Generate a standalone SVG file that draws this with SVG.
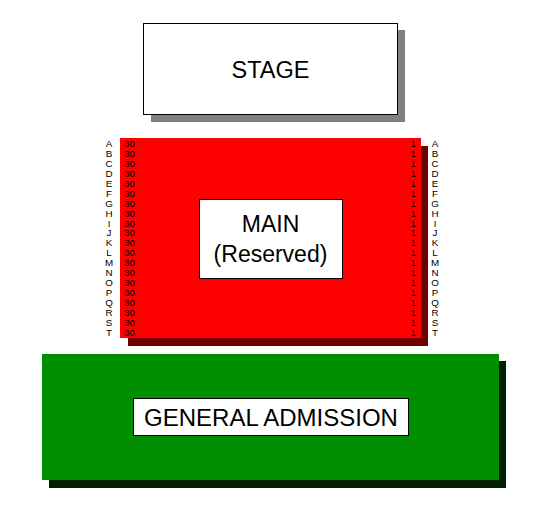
<svg xmlns="http://www.w3.org/2000/svg" width="537" height="521" viewBox="0 0 537 521">
<style>
text{font-family:"Liberation Sans",Arial,sans-serif;fill:#000}
.big{font-size:23px;text-anchor:middle}
.row{font-size:9.8px;text-anchor:middle}
.seatL{font-size:9.8px;text-anchor:start}
.seatR{font-size:9.8px;text-anchor:end}
.lbl{fill:#fff;stroke:#000;stroke-width:1}
</style>
<rect width="537" height="521" fill="#fff"/>
<g id="stage">
<rect x="151" y="30" width="254" height="92" fill="#808080"/>
<rect x="143.5" y="23.5" width="254" height="91" fill="#fff" stroke="#000"/>
<text class="big" x="270.5" y="78" style="font-size:23.5px">STAGE</text>
</g>
<g id="main">
<rect x="128" y="146" width="300" height="200" fill="#700000"/>
<rect x="120" y="138" width="301" height="200" fill="#ff0000"/>
<rect class="lbl" x="199.5" y="199.5" width="143" height="79"/>
<text class="big" x="270.5" y="232">MAIN</text>
<text class="big" x="270.5" y="262">(Reserved)</text>
</g>
<g id="rows-left">
<text class="row" x="109" y="146.8">A</text>
<text class="row" x="109" y="156.8">B</text>
<text class="row" x="109" y="166.7">C</text>
<text class="row" x="109" y="176.7">D</text>
<text class="row" x="109" y="186.6">E</text>
<text class="row" x="109" y="196.6">F</text>
<text class="row" x="109" y="206.6">G</text>
<text class="row" x="109" y="216.5">H</text>
<text class="row" x="109" y="226.5">I</text>
<text class="row" x="109" y="236.4">J</text>
<text class="row" x="109" y="246.4">K</text>
<text class="row" x="109" y="256.4">L</text>
<text class="row" x="109" y="266.3">M</text>
<text class="row" x="109" y="276.3">N</text>
<text class="row" x="109" y="286.2">O</text>
<text class="row" x="109" y="296.2">P</text>
<text class="row" x="109" y="306.2">Q</text>
<text class="row" x="109" y="316.1">R</text>
<text class="row" x="109" y="326.1">S</text>
<text class="row" x="109" y="336">T</text>
</g>
<g id="rows-right">
<text class="row" x="435" y="146.8">A</text>
<text class="row" x="435" y="156.8">B</text>
<text class="row" x="435" y="166.7">C</text>
<text class="row" x="435" y="176.7">D</text>
<text class="row" x="435" y="186.6">E</text>
<text class="row" x="435" y="196.6">F</text>
<text class="row" x="435" y="206.6">G</text>
<text class="row" x="435" y="216.5">H</text>
<text class="row" x="435" y="226.5">I</text>
<text class="row" x="435" y="236.4">J</text>
<text class="row" x="435" y="246.4">K</text>
<text class="row" x="435" y="256.4">L</text>
<text class="row" x="435" y="266.3">M</text>
<text class="row" x="435" y="276.3">N</text>
<text class="row" x="435" y="286.2">O</text>
<text class="row" x="435" y="296.2">P</text>
<text class="row" x="435" y="306.2">Q</text>
<text class="row" x="435" y="316.1">R</text>
<text class="row" x="435" y="326.1">S</text>
<text class="row" x="435" y="336">T</text>
</g>
<g id="seats-30">
<text class="seatL" x="124" y="146.8">30</text>
<text class="seatL" x="124" y="156.8">30</text>
<text class="seatL" x="124" y="166.7">30</text>
<text class="seatL" x="124" y="176.7">30</text>
<text class="seatL" x="124" y="186.6">30</text>
<text class="seatL" x="124" y="196.6">30</text>
<text class="seatL" x="124" y="206.6">30</text>
<text class="seatL" x="124" y="216.5">30</text>
<text class="seatL" x="124" y="226.5">30</text>
<text class="seatL" x="124" y="236.4">30</text>
<text class="seatL" x="124" y="246.4">30</text>
<text class="seatL" x="124" y="256.4">30</text>
<text class="seatL" x="124" y="266.3">30</text>
<text class="seatL" x="124" y="276.3">30</text>
<text class="seatL" x="124" y="286.2">30</text>
<text class="seatL" x="124" y="296.2">30</text>
<text class="seatL" x="124" y="306.2">30</text>
<text class="seatL" x="124" y="316.1">30</text>
<text class="seatL" x="124" y="326.1">30</text>
<text class="seatL" x="124" y="336">30</text>
</g>
<g id="seats-1">
<text class="seatR" x="416" y="146.8">1</text>
<text class="seatR" x="416" y="156.8">1</text>
<text class="seatR" x="416" y="166.7">1</text>
<text class="seatR" x="416" y="176.7">1</text>
<text class="seatR" x="416" y="186.6">1</text>
<text class="seatR" x="416" y="196.6">1</text>
<text class="seatR" x="416" y="206.6">1</text>
<text class="seatR" x="416" y="216.5">1</text>
<text class="seatR" x="416" y="226.5">1</text>
<text class="seatR" x="416" y="236.4">1</text>
<text class="seatR" x="416" y="246.4">1</text>
<text class="seatR" x="416" y="256.4">1</text>
<text class="seatR" x="416" y="266.3">1</text>
<text class="seatR" x="416" y="276.3">1</text>
<text class="seatR" x="416" y="286.2">1</text>
<text class="seatR" x="416" y="296.2">1</text>
<text class="seatR" x="416" y="306.2">1</text>
<text class="seatR" x="416" y="316.1">1</text>
<text class="seatR" x="416" y="326.1">1</text>
<text class="seatR" x="416" y="336">1</text>
</g>
<g id="general">
<rect x="49" y="361" width="457" height="127" fill="#002000"/>
<rect x="42" y="354" width="457" height="126" fill="#008f00"/>
<rect class="lbl" x="133.5" y="398.5" width="275" height="37"/>
<text class="big" x="271" y="426" style="font-size:24px">GENERAL ADMISSION</text>
</g>
<g id="connectors"/>
</svg>
